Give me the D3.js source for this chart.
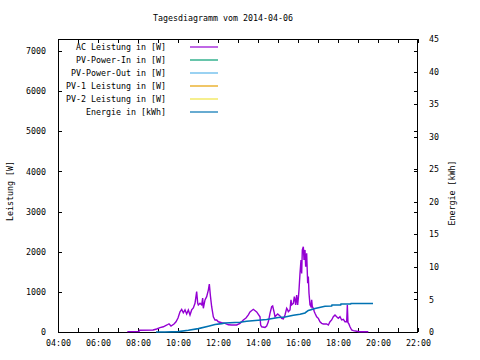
<!DOCTYPE html>
<html><head><meta charset="utf-8">
<script src="https://cdn.jsdelivr.net/npm/d3@7"></script>
<style>
html,body{margin:0;padding:0;background:#fff;}
text{font-family:"DejaVu Sans Mono",monospace;font-size:8.3px;fill:#000;}
</style></head>
<body><svg id="c" width="480" height="360"></svg>
<script>
const title = "Tagesdiagramm vom 2014-04-06";
const seriesNames = ["AC Leistung in [W]","PV-Power-In in [W]","PV-Power-Out in [W]","PV-1 Leistung in [W]","PV-2 Leistung in [W]","Energie in [kWh]"];
const seriesColors = ["#9400d3","#009e73","#56b4e9","#e69f00","#f0e442","#0072b2"];
const xTickLabels = ["04:00","06:00","08:00","10:00","12:00","14:00","16:00","18:00","20:00","22:00"];
const yTicks = [0,1000,2000,3000,4000,5000,6000,7000];
const y2Ticks = [0,5,10,15,20,25,30,35,40,45];

const acTimes = ["07:28","08:03","08:04","08:45","08:56","09:06","09:16","09:27","09:33","09:39","09:48","09:54","10:00","10:06","10:11","10:16","10:21","10:26","10:31","10:36","10:41","10:46","10:51","10:56","10:59","11:01","11:06","11:11","11:14","11:16","11:21","11:26","11:31","11:34","11:37","11:41","11:46","11:51","11:56","12:01","12:11","12:21","12:31","12:41","12:56","13:06","13:16","13:24","13:31","13:36","13:46","13:56","14:06","14:08","14:11","14:21","14:26","14:31","14:36","14:41","14:44","14:48","14:51","14:56","14:59","15:06","15:11","15:16","15:21","15:26","15:29","15:31","15:36","15:39","15:41","15:46","15:49","15:51","15:53","15:56","15:59","16:01","16:03","16:06","16:09","16:11","16:13","16:16","16:18","16:21","16:23","16:26","16:29","16:31","16:33","16:36","16:39","16:41","16:43","16:46","16:49","16:51","16:56","17:01","17:06","17:11","17:16","17:26","17:31","17:36","17:41","17:46","17:51","17:56","18:01","18:06","18:11","18:16","18:21","18:26","18:28","18:30","18:32","18:36","18:41","18:46","18:56","19:06","19:31"];
const acWatts = [10,10,45,50,75,110,130,175,205,150,200,255,350,505,565,480,550,450,550,425,550,600,715,1005,720,675,715,675,845,590,800,880,1045,1195,920,630,380,300,300,255,230,215,180,175,175,215,300,350,425,500,565,500,380,175,130,115,150,255,465,630,650,505,380,425,450,400,340,325,425,590,550,505,550,800,675,715,880,800,675,920,675,840,1045,1460,1795,1460,2045,2125,1795,2045,1625,1960,1215,1380,965,675,630,800,630,590,505,465,380,340,255,215,200,200,175,255,300,380,425,380,340,380,300,315,255,255,675,230,215,130,50,35,20,5,5];

const enTimes = ["08:54","09:21","10:01","10:31","11:01","11:31","11:51","12:11","12:21","13:06","13:26","14:26","15:01","15:21","15:46","16:06","16:21","16:31","16:39","16:51","17:11","17:21","17:41","17:42","18:08","18:09","18:38","18:39","19:45"];
const enKWh = [0,0,0.06,0.26,0.52,0.88,1.14,1.29,1.38,1.49,1.65,1.91,2.22,2.31,2.57,2.72,2.92,3.32,3.43,3.6,3.85,3.95,3.98,4.14,4.14,4.3,4.3,4.37,4.37];

const toMin = s => { const [h,m] = s.split(":").map(Number); return h*60+m; };

const svg = d3.select("#c");
const L = 58, R = 418, T = 39, B = 332;
const x = d3.scaleLinear().domain([240,1320]).range([L,R]);
const y = d3.scaleLinear().domain([0,7300]).range([B,T]);
const y2 = d3.scaleLinear().domain([0,45]).range([B,T]);

// title
svg.append("text").attr("x",223).attr("y",21).attr("text-anchor","middle").text(title);

// axes
const hourTicks = d3.range(240,1321,60);
const gx = svg.append("g").attr("transform",`translate(0,${B})`)
  .call(d3.axisBottom(x).tickValues(hourTicks).tickSize(-4).tickPadding(8)
    .tickFormat(v => { const s = xTickLabels.find(l => toMin(l) === v); return s || ""; }));
const gxt = svg.append("g").attr("transform",`translate(0,${T})`)
  .call(d3.axisTop(x).tickValues(hourTicks).tickSize(-4).tickFormat(""));
const gy = svg.append("g").attr("transform",`translate(${L},0)`)
  .call(d3.axisLeft(y).tickValues(yTicks).tickSize(-4).tickPadding(12).tickFormat(d3.format("d")));
const gyr = svg.append("g").attr("transform",`translate(${R},0)`)
  .call(d3.axisRight(y).tickValues(yTicks).tickSize(-4).tickFormat(""));
const gy2 = svg.append("g").attr("transform",`translate(${R},0)`)
  .call(d3.axisRight(y2).tickValues(y2Ticks).tickSize(-4).tickPadding(11).tickFormat(d3.format("d")));
[gx,gxt,gy,gyr,gy2].forEach(g => {
  g.select(".domain").remove();
  g.selectAll("line").attr("stroke","#000").attr("shape-rendering","crispEdges");
  g.selectAll("text").attr("font-family",null).attr("font-size",null).attr("fill","#000");
});

// frame
svg.append("rect").attr("x",L+0.5).attr("y",T+0.5).attr("width",R-L-1).attr("height",B-T)
  .attr("fill","none").attr("stroke","#000").attr("stroke-width",1).attr("shape-rendering","crispEdges");

// axis titles
svg.append("text").attr("transform","translate(13,191) rotate(-90)").attr("text-anchor","middle").text("Leistung [W]");
svg.append("text").attr("transform","translate(455,193) rotate(-90)").attr("text-anchor","middle").text("Energie [kWh]");

// data lines
const acData = acTimes.map((t,i) => ({t:toMin(t), v:acWatts[i]}));
const enData = enTimes.map((t,i) => ({t:toMin(t), v:enKWh[i]}));
svg.append("path").datum(acData)
  .attr("d", d3.line().x(d => x(d.t)).y(d => y(d.v)))
  .attr("fill","none").attr("stroke",seriesColors[0]).attr("stroke-width",1.4);
svg.append("path").datum(enData)
  .attr("d", d3.line().x(d => x(d.t)).y(d => y2(d.v)))
  .attr("fill","none").attr("stroke",seriesColors[5]).attr("stroke-width",1.6);

// legend
const leg = svg.append("g");
seriesNames.forEach((n,i) => {
  const ly = 47 + i*13;
  leg.append("text").attr("x",166).attr("y",ly+3).attr("text-anchor","end").text(n);
  leg.append("line").attr("x1",190).attr("x2",218).attr("y1",ly).attr("y2",ly)
    .attr("stroke",seriesColors[i]).attr("stroke-width",1.2);
});
</script></body></html>
